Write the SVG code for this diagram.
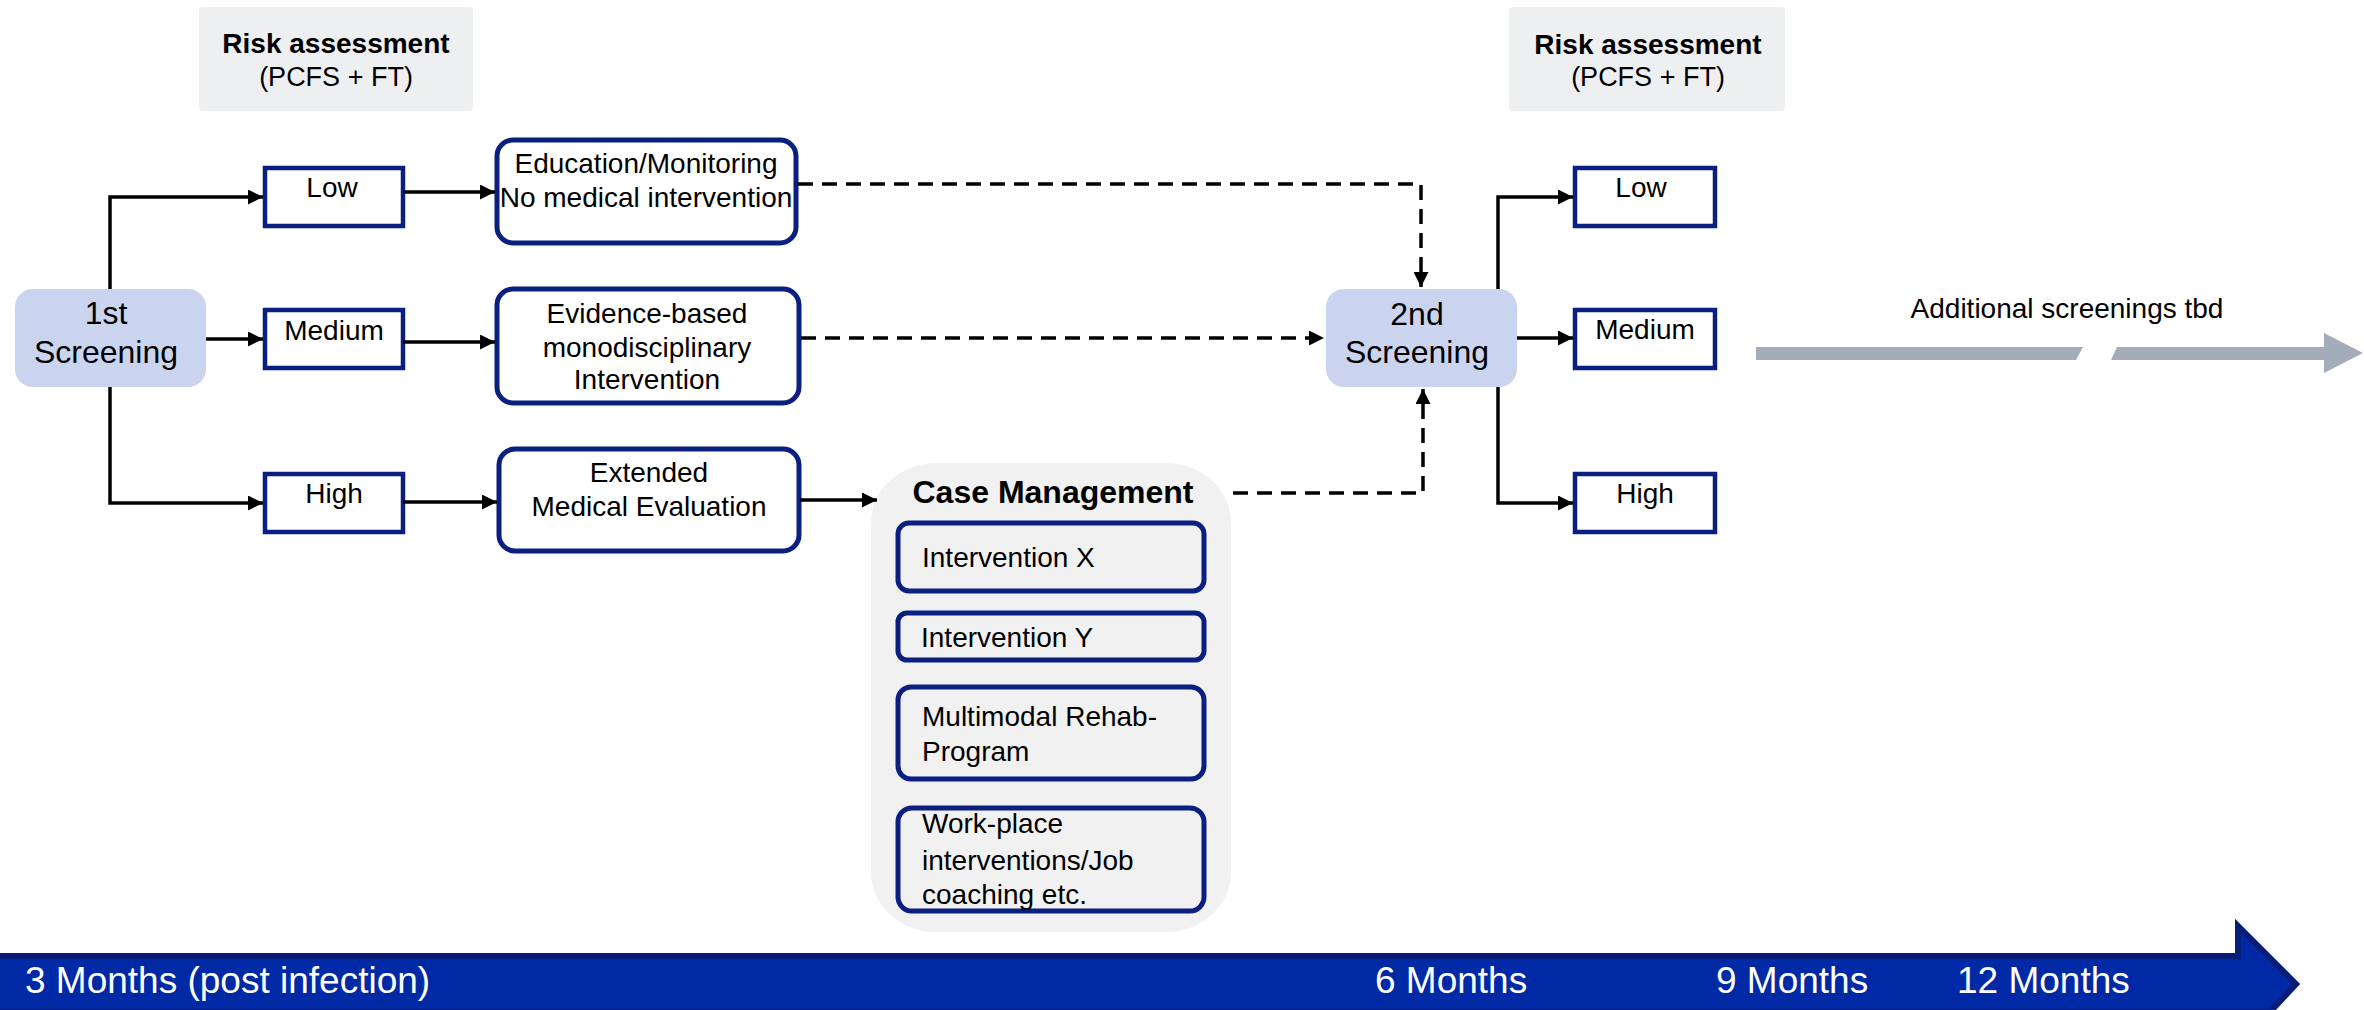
<svg xmlns="http://www.w3.org/2000/svg" width="2364" height="1010" viewBox="0 0 2364 1010">
<style>
text{font-family:"Liberation Sans",Arial,sans-serif;fill:#000}
.t28{font-size:28px}
.b28{font-size:28px;font-weight:bold}
.b32{font-size:32px;font-weight:bold}
.t32{font-size:32px}
.mid{text-anchor:middle}
.risk{fill:#eeeff1}
.lvl{fill:#fff;stroke:#0a1f80;stroke-width:4.5}
.act{fill:#fff;stroke:#0a1f80;stroke-width:5}
.sub{fill:#f1f1f1;stroke:#0a1f80;stroke-width:5}
.scr{fill:#cbd4ee}
.con{fill:none;stroke:#000;stroke-width:3.5}
.dash{fill:none;stroke:#000;stroke-width:3.5;stroke-dasharray:15 9}
.tl{fill:#fff;font-size:37px}
</style>
<defs>
<marker id="ah" markerUnits="userSpaceOnUse" markerWidth="15" markerHeight="15" refX="15" refY="7.5" orient="auto">
<path d="M0,0 L15,7.5 L0,15 z" fill="#000"/>
</marker>
</defs>

<g id="risk1">
<rect class="risk" x="199" y="7" width="274" height="104" rx="4"/>
<text class="b28 mid" x="336" y="53">Risk assessment</text>
<text class="t28 mid" x="336" y="86" style="font-size:27px">(PCFS + FT)</text>
</g>
<g id="risk2">
<rect class="risk" x="1509" y="7" width="276" height="104" rx="4"/>
<text class="b28 mid" x="1648" y="54">Risk assessment</text>
<text class="t28 mid" x="1648" y="86" style="font-size:27px">(PCFS + FT)</text>
</g>

<g id="screening1">
<rect class="scr" x="15" y="289" width="191" height="98" rx="18"/>
<text class="t32 mid" x="106" y="324">1st</text>
<text class="t32 mid" x="106" y="363">Screening</text>
</g>
<g id="low1">
<rect class="lvl" x="265" y="168" width="138" height="58"/>
<text class="t28 mid" x="332" y="197">Low</text>
</g>
<g id="medium1">
<rect class="lvl" x="265" y="310" width="138" height="58"/>
<text class="t28 mid" x="334" y="340">Medium</text>
</g>
<g id="high1">
<rect class="lvl" x="265" y="474" width="138" height="58"/>
<text class="t28 mid" x="334" y="503">High</text>
</g>
<g id="education">
<rect class="act" x="497" y="140" width="299" height="103" rx="16"/>
<text class="t28 mid" x="646" y="173">Education/Monitoring</text>
<text class="t28 mid" x="646" y="207">No medical intervention</text>
</g>
<g id="evidence">
<rect class="act" x="497" y="289" width="302" height="114" rx="16"/>
<text class="t28 mid" x="647" y="323">Evidence-based</text>
<text class="t28 mid" x="647" y="357">monodisciplinary</text>
<text class="t28 mid" x="647" y="389">Intervention</text>
</g>
<g id="extended">
<rect class="act" x="499" y="449" width="300" height="102" rx="16"/>
<text class="t28 mid" x="649" y="482">Extended</text>
<text class="t28 mid" x="649" y="516">Medical Evaluation</text>
</g>
<g id="case-management">
<rect x="871" y="463" width="360" height="469" rx="65" ry="60" fill="#f1f1f1"/>
<text class="b32 mid" x="1053" y="503">Case Management</text>
<g id="intervention-x">
<rect class="sub" x="898" y="523" width="306" height="68" rx="11"/>
<text class="t28" x="922" y="567">Intervention X</text>
</g>
<g id="intervention-y">
<rect class="sub" x="898" y="613" width="306" height="47" rx="9"/>
<text class="t28" x="921" y="647">Intervention Y</text>
</g>
<g id="multimodal">
<rect class="sub" x="898" y="687" width="306" height="92" rx="13"/>
<text class="t28" x="922" y="726">Multimodal Rehab-</text>
<text class="t28" x="922" y="761">Program</text>
</g>
<g id="workplace">
<rect class="sub" x="898" y="808" width="306" height="103" rx="14"/>
<text class="t28" x="922" y="833">Work-place</text>
<text class="t28" x="922" y="870">interventions/Job</text>
<text class="t28" x="922" y="904">coaching etc.</text>
</g>
</g>
<g id="screening2">
<rect class="scr" x="1326" y="289" width="191" height="98" rx="18"/>
<text class="t32 mid" x="1417" y="325">2nd</text>
<text class="t32 mid" x="1417" y="363">Screening</text>
</g>
<g id="low2">
<rect class="lvl" x="1575" y="168" width="140" height="58"/>
<text class="t28 mid" x="1641" y="197">Low</text>
</g>
<g id="medium2">
<rect class="lvl" x="1575" y="310" width="140" height="58"/>
<text class="t28 mid" x="1645" y="339">Medium</text>
</g>
<g id="high2">
<rect class="lvl" x="1575" y="474" width="140" height="58"/>
<text class="t28 mid" x="1645" y="503">High</text>
</g>
<g id="additional">
<text class="t28 mid" x="2067" y="318">Additional screenings tbd</text>
<polygon points="1756,347 2083,347 2076,360 1756,360" fill="#a3acb8"/>
<polygon points="2117,347 2324,347 2324,333 2363,353 2324,373 2324,360 2111,360" fill="#a3acb8"/>
</g>

<g id="connectors">
<path class="con" d="M110,289 V197 H263" marker-end="url(#ah)"/>
<path class="con" d="M206,339 H263" marker-end="url(#ah)"/>
<path class="con" d="M110,387 V503 H263" marker-end="url(#ah)"/>
<path class="con" d="M403,192 H495" marker-end="url(#ah)"/>
<path class="con" d="M403,342 H495" marker-end="url(#ah)"/>
<path class="con" d="M403,502 H497" marker-end="url(#ah)"/>
<path class="con" d="M800,500 H877" marker-end="url(#ah)"/>
<path class="dash" d="M798,184 H1421 V287" marker-end="url(#ah)"/>
<path class="dash" d="M801,338 H1324" marker-end="url(#ah)"/>
<path class="dash" d="M1233,493 H1423 V389" marker-end="url(#ah)"/>
<path class="con" d="M1498,289 V197 H1573" marker-end="url(#ah)"/>
<path class="con" d="M1517,338 H1573" marker-end="url(#ah)"/>
<path class="con" d="M1498,387 V503 H1573" marker-end="url(#ah)"/>
</g>

<g id="timeline">
<polygon points="-10,956 2238,956 2238,926 2296,984 2270,1012 -10,1012" fill="#0029a5" stroke="#071d78" stroke-width="6"/>
<text class="tl" x="25" y="993">3 Months (post infection)</text>
<text class="tl" x="1375" y="993">6 Months</text>
<text class="tl" x="1716" y="993">9 Months</text>
<text class="tl" x="1957" y="993">12 Months</text>
</g>
</svg>
